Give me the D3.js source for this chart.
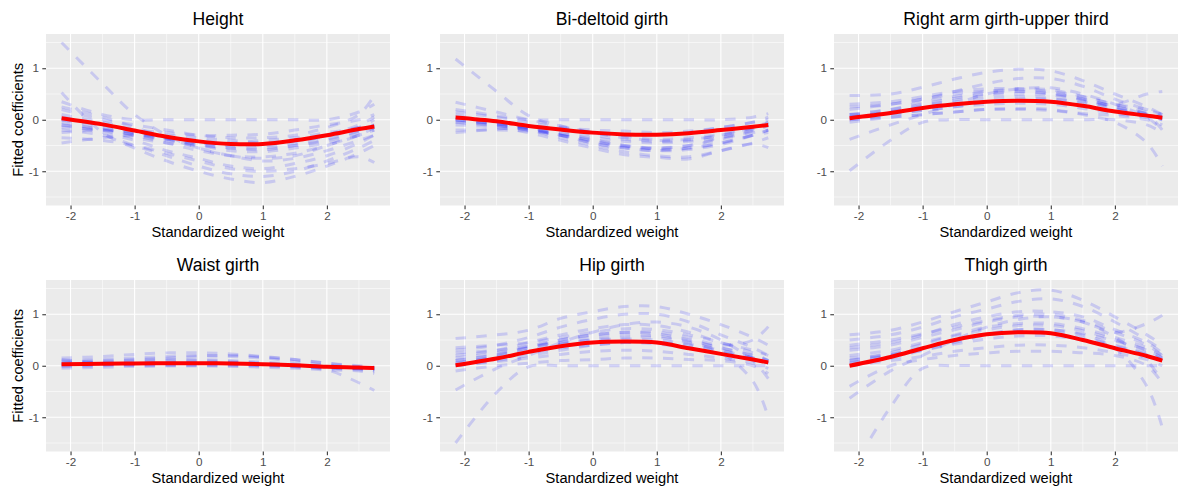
<!DOCTYPE html>
<html><head><meta charset="utf-8">
<script src="https://cdn.jsdelivr.net/npm/d3@7"></script>
<style>
body{margin:0;background:#fff;}
svg{display:block;font-family:"Liberation Sans",Arial,sans-serif;}
</style>
</head><body>
<svg id="chart" width="1178" height="493"></svg>
<script>
// ---------- data ----------
const weightGrid = [-2.14, -1.5, -1, -0.5, 0, 0.5, 1, 1.5, 2, 2.5, 2.74];
const panelTitles = ["Height", "Bi-deltoid girth", "Right arm girth-upper third", "Waist girth", "Hip girth", "Thigh girth"];
const xTickValues = [-2, -1, 0, 1, 2];
const yTickValues = [-1, 0, 1];
const xAxisTitle = "Standardized weight";
const yAxisTitle = "Fitted coefficients";

const heightMean = [0.03, -0.09, -0.21, -0.33, -0.42, -0.47, -0.47, -0.40, -0.30, -0.18, -0.13];
const heightDraws = [
  [1.50, 0.70, 0.10, -0.30, -0.55, -0.70, -0.75, -0.70, -0.50, -0.30, -0.20],
  [0.53, -0.25, -0.55, -0.80, -1.00, -1.15, -1.22, -1.10, -0.90, -0.65, -0.50],
  [0.35, 0.10, 0.00, 0.00, 0.00, 0.00, 0.00, 0.00, 0.00, 0.15, 0.30],
  [0.20, 0.00, -0.10, -0.20, -0.30, -0.35, -0.35, -0.30, -0.15, 0.10, 0.47],
  [0.10, -0.05, -0.20, -0.35, -0.45, -0.50, -0.50, -0.45, -0.30, -0.10, 0.05],
  [0.00, -0.15, -0.30, -0.45, -0.60, -0.70, -0.72, -0.65, -0.50, -0.30, -0.15],
  [-0.10, -0.25, -0.40, -0.60, -0.75, -0.90, -0.95, -0.85, -0.70, -0.45, -0.30],
  [-0.20, -0.30, -0.50, -0.70, -0.90, -1.05, -1.10, -1.00, -0.80, -0.55, -0.40],
  [-0.35, -0.40, -0.50, -0.65, -0.80, -0.95, -1.00, -0.95, -0.85, -0.72, -0.83],
  [-0.45, -0.35, -0.30, -0.30, -0.35, -0.40, -0.45, -0.40, -0.30, -0.15, -0.10],
  [0.05, -0.10, -0.20, -0.25, -0.30, -0.30, -0.28, -0.20, -0.10, 0.00, 0.10],
  [-0.05, -0.20, -0.35, -0.45, -0.50, -0.55, -0.55, -0.50, -0.40, -0.25, -0.15],
  [0.25, 0.05, -0.15, -0.35, -0.55, -0.70, -0.80, -0.75, -0.60, -0.40, -0.30],
  [-0.25, -0.20, -0.25, -0.35, -0.40, -0.45, -0.40, -0.35, -0.25, -0.15, 0.00],
  [-0.15, -0.20, -0.30, -0.40, -0.50, -0.60, -0.62, -0.55, -0.45, -0.30, -0.20],
  [0.00, -0.10, -0.25, -0.38, -0.48, -0.55, -0.58, -0.50, -0.38, -0.22, -0.10],
  [-0.10, -0.18, -0.28, -0.38, -0.45, -0.48, -0.48, -0.42, -0.32, -0.20, -0.12]
];

const bideltoidMean = [0.045, -0.03, -0.12, -0.19, -0.25, -0.285, -0.29, -0.26, -0.20, -0.135, -0.10];
const bideltoidDraws = [
  [1.18, 0.55, 0.08, -0.12, -0.25, -0.30, -0.30, -0.25, -0.15, -0.05, 0.00],
  [0.20, 0.08, 0.00, 0.00, 0.00, 0.00, 0.00, 0.00, 0.00, 0.05, 0.12],
  [0.34, 0.15, 0.00, -0.12, -0.25, -0.35, -0.40, -0.38, -0.30, -0.15, -0.05],
  [0.10, -0.05, -0.15, -0.30, -0.45, -0.55, -0.60, -0.55, -0.45, -0.30, -0.20],
  [0.00, -0.10, -0.20, -0.35, -0.50, -0.62, -0.70, -0.72, -0.60, -0.45, -0.35],
  [-0.10, -0.15, -0.25, -0.40, -0.55, -0.68, -0.73, -0.76, -0.60, -0.47, -0.54],
  [0.05, -0.05, -0.12, -0.20, -0.30, -0.38, -0.42, -0.40, -0.30, -0.18, -0.10],
  [-0.05, -0.10, -0.18, -0.27, -0.35, -0.42, -0.45, -0.42, -0.35, -0.25, -0.20],
  [-0.20, -0.20, -0.22, -0.30, -0.40, -0.50, -0.55, -0.50, -0.35, -0.20, -0.10],
  [-0.25, -0.18, -0.15, -0.18, -0.25, -0.32, -0.38, -0.35, -0.28, -0.15, -0.05],
  [0.15, 0.05, -0.05, -0.15, -0.20, -0.22, -0.25, -0.22, -0.15, -0.05, 0.05],
  [0.00, -0.08, -0.15, -0.25, -0.38, -0.50, -0.57, -0.55, -0.45, -0.30, -0.25],
  [0.00, -0.08, -0.18, -0.30, -0.42, -0.52, -0.55, -0.50, -0.38, -0.22, -0.12],
  [-0.05, -0.12, -0.20, -0.30, -0.45, -0.55, -0.60, -0.58, -0.48, -0.30, -0.20]
];

const rightArmMean = [0.03, 0.13, 0.23, 0.30, 0.35, 0.37, 0.35, 0.27, 0.16, 0.08, 0.04];
const rightArmDraws = [
  [-0.99, -0.40, -0.05, 0.00, 0.00, 0.00, 0.00, 0.00, 0.00, -0.10, -0.25],
  [0.47, 0.50, 0.63, 0.79, 0.92, 0.98, 0.95, 0.76, 0.50, 0.25, 0.10],
  [-0.38, -0.10, 0.10, 0.30, 0.50, 0.60, 0.62, 0.50, 0.30, 0.05, -0.20],
  [0.20, 0.30, 0.40, 0.55, 0.70, 0.80, 0.80, 0.65, 0.40, 0.20, 0.10],
  [0.10, 0.20, 0.35, 0.45, 0.55, 0.60, 0.58, 0.45, 0.30, 0.15, 0.05],
  [0.05, 0.15, 0.25, 0.35, 0.42, 0.45, 0.42, 0.32, 0.20, 0.08, 0.00],
  [0.00, 0.10, 0.18, 0.25, 0.30, 0.32, 0.30, 0.22, 0.12, 0.05, 0.00],
  [-0.05, 0.05, 0.10, 0.15, 0.20, 0.20, 0.18, 0.12, 0.08, 0.00, -0.10],
  [0.30, 0.35, 0.45, 0.55, 0.60, 0.60, 0.55, 0.45, 0.30, 0.20, 0.10],
  [0.10, 0.12, 0.18, 0.25, 0.35, 0.40, 0.40, 0.35, 0.30, 0.50, 0.55],
  [0.00, 0.05, 0.10, 0.15, 0.20, 0.22, 0.20, 0.10, -0.05, -0.45, -0.90],
  [0.25, 0.30, 0.40, 0.50, 0.55, 0.55, 0.50, 0.40, 0.25, 0.10, -0.20],
  [0.10, 0.20, 0.30, 0.42, 0.50, 0.55, 0.52, 0.40, 0.25, 0.12, 0.05],
  [0.05, 0.15, 0.28, 0.38, 0.48, 0.50, 0.48, 0.38, 0.22, 0.10, 0.02]
];

const waistMean = [0.03, 0.04, 0.045, 0.05, 0.05, 0.045, 0.03, 0.01, -0.02, -0.035, -0.045];
const waistDraws = [
  [0.15, 0.18, 0.22, 0.25, 0.25, 0.23, 0.18, 0.12, 0.05, 0.00, -0.02],
  [0.10, 0.12, 0.15, 0.18, 0.20, 0.18, 0.15, 0.08, 0.00, -0.05, -0.05],
  [0.05, 0.07, 0.10, 0.12, 0.12, 0.10, 0.07, 0.03, -0.02, -0.05, -0.08],
  [0.00, 0.02, 0.04, 0.05, 0.05, 0.05, 0.03, 0.00, -0.05, -0.08, -0.12],
  [-0.05, -0.03, -0.01, 0.00, 0.00, -0.01, -0.03, -0.05, -0.08, -0.10, -0.15],
  [0.02, 0.03, 0.04, 0.05, 0.05, 0.04, 0.02, -0.02, -0.08, -0.33, -0.48],
  [0.08, 0.10, 0.12, 0.15, 0.18, 0.20, 0.17, 0.12, 0.05, -0.02, -0.06],
  [-0.02, 0.00, 0.02, 0.02, 0.02, 0.02, 0.00, -0.02, -0.04, -0.06, -0.08],
  [0.12, 0.05, 0.00, 0.00, 0.00, 0.00, 0.00, 0.00, 0.00, -0.03, -0.10],
  [0.05, 0.06, 0.08, 0.10, 0.10, 0.08, 0.05, 0.00, -0.03, -0.05, -0.06],
  [0.02, 0.03, 0.05, 0.06, 0.07, 0.06, 0.04, 0.02, -0.02, -0.04, -0.05]
];

const hipMean = [0.01, 0.14, 0.27, 0.38, 0.45, 0.47, 0.45, 0.34, 0.23, 0.12, 0.065];
const hipDraws = [
  [-1.50, -0.52, -0.02, 0.00, 0.00, 0.00, 0.00, 0.00, 0.00, 0.00, 0.00],
  [0.53, 0.60, 0.69, 0.92, 1.05, 1.15, 1.15, 1.00, 0.80, 0.55, 0.40],
  [-0.47, -0.05, 0.20, 0.45, 0.65, 0.80, 0.85, 0.75, 0.50, 0.10, -0.25],
  [0.30, 0.40, 0.55, 0.75, 0.90, 1.00, 1.00, 0.85, 0.60, 0.35, 0.20],
  [0.20, 0.30, 0.45, 0.60, 0.72, 0.80, 0.78, 0.65, 0.45, 0.30, 0.20],
  [0.10, 0.20, 0.35, 0.45, 0.55, 0.60, 0.58, 0.48, 0.35, 0.20, 0.10],
  [0.05, 0.15, 0.25, 0.35, 0.40, 0.45, 0.42, 0.35, 0.25, 0.15, 0.05],
  [0.00, 0.08, 0.15, 0.22, 0.28, 0.30, 0.28, 0.22, 0.15, 0.05, -0.05],
  [-0.10, 0.00, 0.05, 0.10, 0.12, 0.15, 0.15, 0.12, 0.10, 0.00, -0.15],
  [0.15, 0.25, 0.35, 0.50, 0.60, 0.65, 0.65, 0.55, 0.40, 0.50, 0.76],
  [0.00, 0.10, 0.20, 0.30, 0.40, 0.45, 0.45, 0.40, 0.25, -0.30, -1.00],
  [0.35, 0.40, 0.45, 0.55, 0.65, 0.72, 0.70, 0.60, 0.45, 0.25, 0.10],
  [0.25, 0.30, 0.38, 0.45, 0.50, 0.52, 0.50, 0.42, 0.30, 0.15, 0.05],
  [0.10, 0.22, 0.38, 0.50, 0.60, 0.65, 0.62, 0.50, 0.35, 0.20, 0.10],
  [0.05, 0.18, 0.30, 0.42, 0.50, 0.55, 0.55, 0.45, 0.30, 0.15, 0.05]
];

const thighMean = [0.00, 0.17, 0.34, 0.50, 0.61, 0.65, 0.63, 0.50, 0.34, 0.19, 0.10];
const thighDraws = [
  [-2.10, -0.80, -0.05, 0.00, 0.00, 0.00, 0.00, 0.00, 0.00, 0.00, 0.00],
  [-0.63, -0.10, 0.20, 0.50, 0.75, 0.90, 0.95, 0.85, 0.55, 0.10, -0.30],
  [0.60, 0.69, 0.85, 1.05, 1.24, 1.42, 1.47, 1.27, 0.95, 0.60, 0.40],
  [0.50, 0.60, 0.75, 0.95, 1.10, 1.25, 1.30, 1.15, 0.85, 0.50, 0.30],
  [0.35, 0.45, 0.60, 0.80, 0.95, 1.05, 1.05, 0.95, 0.70, 0.45, 0.25],
  [0.20, 0.30, 0.45, 0.60, 0.75, 0.82, 0.82, 0.72, 0.55, 0.35, 0.20],
  [0.10, 0.20, 0.30, 0.42, 0.52, 0.58, 0.58, 0.50, 0.38, 0.22, 0.10],
  [0.00, 0.10, 0.18, 0.28, 0.35, 0.40, 0.40, 0.35, 0.25, 0.12, 0.00],
  [-0.40, 0.00, 0.12, 0.20, 0.25, 0.28, 0.28, 0.25, 0.20, 0.00, -0.34],
  [0.30, 0.40, 0.55, 0.70, 0.85, 0.95, 0.95, 0.85, 0.65, 0.82, 0.98],
  [0.05, 0.15, 0.30, 0.45, 0.60, 0.70, 0.70, 0.60, 0.35, -0.40, -1.20],
  [0.40, 0.50, 0.62, 0.75, 0.88, 0.98, 1.00, 0.88, 0.65, 0.40, 0.20],
  [0.15, 0.22, 0.35, 0.50, 0.62, 0.70, 0.70, 0.62, 0.48, 0.30, 0.15],
  [0.10, 0.25, 0.42, 0.58, 0.70, 0.78, 0.78, 0.68, 0.50, 0.30, 0.15],
  [0.05, 0.20, 0.35, 0.48, 0.60, 0.65, 0.65, 0.55, 0.40, 0.25, 0.12]
];

const panelMeans = [heightMean, bideltoidMean, rightArmMean, waistMean, hipMean, thighMean];
const panelDraws = [heightDraws, bideltoidDraws, rightArmDraws, waistDraws, hipDraws, thighDraws];

// ---------- layout ----------
const svg = d3.select("#chart");
const panelW = 344, panelH = 171.5;
const colLeft = [46, 440, 834];
const rowTop = [34, 280];
const x = d3.scaleLinear().domain([-2.383, 2.985]).range([0, panelW]);
const y = d3.scaleLinear().domain([-1.665, 1.665]).range([panelH, 0]);
const line = d3.line()
  .x((d, i) => x(weightGrid[i]))
  .y(d => y(d))
  .curve(d3.curveCatmullRom.alpha(0.5));

svg.append("rect").attr("width", 1178).attr("height", 493).attr("fill", "#fff");

panelTitles.forEach((title, p) => {
  const col = p % 3, row = Math.floor(p / 3);
  const g = svg.append("g").attr("transform", `translate(${colLeft[col]},${rowTop[row]})`);

  g.append("rect").attr("width", panelW).attr("height", panelH).attr("fill", "#EBEBEB");

  const xMinor = [-1.5, -0.5, 0.5, 1.5, 2.5];
  const yMinor = [-1.5, -0.5, 0.5, 1.5];
  g.selectAll(".xm").data(xMinor).join("line")
    .attr("x1", d => x(d)).attr("x2", d => x(d)).attr("y1", 0).attr("y2", panelH)
    .attr("stroke", "#fff").attr("stroke-width", 0.55);
  g.selectAll(".ym").data(yMinor).join("line")
    .attr("y1", d => y(d)).attr("y2", d => y(d)).attr("x1", 0).attr("x2", panelW)
    .attr("stroke", "#fff").attr("stroke-width", 0.55);
  g.selectAll(".xM").data(xTickValues).join("line")
    .attr("x1", d => x(d)).attr("x2", d => x(d)).attr("y1", 0).attr("y2", panelH)
    .attr("stroke", "#fff").attr("stroke-width", 1.1);
  g.selectAll(".yM").data(yTickValues).join("line")
    .attr("y1", d => y(d)).attr("y2", d => y(d)).attr("x1", 0).attr("x2", panelW)
    .attr("stroke", "#fff").attr("stroke-width", 1.1);

  const clipId = "clip" + p;
  g.append("clipPath").attr("id", clipId).append("rect")
    .attr("x", 0).attr("width", panelW)
    .attr("y", y(1.52)).attr("height", y(-1.52) - y(1.52));

  const lines = g.append("g").attr("clip-path", `url(#${clipId})`);
  lines.selectAll(".draw").data(panelDraws[p]).join("path")
    .attr("d", d => line(d))
    .attr("fill", "none")
    .attr("stroke", "#0000FF")
    .attr("stroke-opacity", 0.15)
    .attr("stroke-width", 3)
    .attr("stroke-dasharray", "10.4,10.4");
  lines.append("path")
    .attr("d", line(panelMeans[p]))
    .attr("fill", "none")
    .attr("stroke", "#FF0000")
    .attr("stroke-width", 4)
    .attr("stroke-linecap", "butt");

  const ax = g.append("g").attr("transform", `translate(0,${panelH})`)
    .call(d3.axisBottom(x).tickValues(xTickValues).tickSize(3.7).tickPadding(2.4).tickFormat(d => String(d)));
  const ay = g.append("g")
    .call(d3.axisLeft(y).tickValues(yTickValues).tickSize(3.7).tickPadding(3.2).tickFormat(d => String(d)));
  [ax, ay].forEach(a => {
    a.select(".domain").remove();
    a.selectAll("line").attr("stroke", "#333333").attr("stroke-width", 1.07);
    a.selectAll("text").attr("fill", "#4D4D4D").style("font-size", "11.7px")
      .style("font-family", '"Liberation Sans",Arial,sans-serif');
  });

  g.append("text").attr("x", panelW / 2).attr("y", -9)
    .attr("text-anchor", "middle").style("font-size", "17.6px").attr("fill", "#000")
    .text(title);
  g.append("text").attr("x", panelW / 2).attr("y", panelH + 31.5)
    .attr("text-anchor", "middle").style("font-size", "14.67px").attr("fill", "#000")
    .text(xAxisTitle);
  if (col === 0) {
    g.append("text")
      .attr("transform", `translate(${23 - colLeft[col]},${panelH / 2}) rotate(-90)`)
      .attr("text-anchor", "middle").style("font-size", "14.67px").attr("fill", "#000")
      .text(yAxisTitle);
  }
});
</script>
</body></html>
